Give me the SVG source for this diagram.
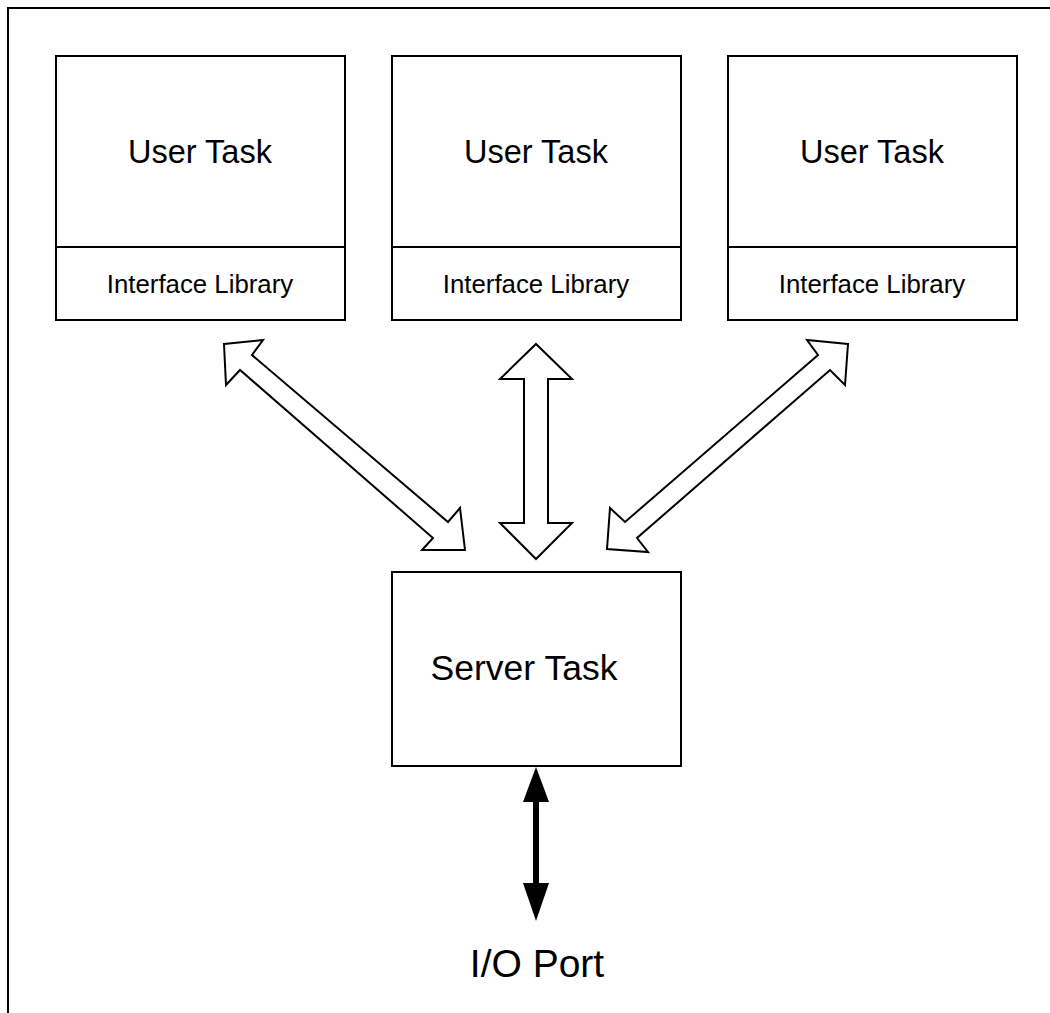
<svg xmlns="http://www.w3.org/2000/svg" width="1050" height="1013" viewBox="0 0 1050 1013">
<style>
.box{fill:#fff;stroke:#000;stroke-width:2}
.frame{fill:none;stroke:#000;stroke-width:2}
.big{font-family:"Liberation Sans",Arial,sans-serif;font-size:32.5px;fill:#000;text-anchor:middle}
.small{font-family:"Liberation Sans",Arial,sans-serif;font-size:25.8px;fill:#000;text-anchor:middle}
.srv{font-family:"Liberation Sans",Arial,sans-serif;font-size:35.5px;fill:#000;text-anchor:middle}
.io{font-family:"Liberation Sans",Arial,sans-serif;font-size:39px;fill:#000;text-anchor:middle}
.hollow{fill:#fff;stroke:#000;stroke-width:2;stroke-linejoin:miter}
</style>
<rect width="1050" height="1013" fill="#fff"/>
<rect class="frame" x="8" y="8" width="1060" height="1030"/>
<g id="user1">
<rect class="box" x="56" y="56" width="289" height="264"/>
<line x1="56" y1="247" x2="345" y2="247" stroke="#000" stroke-width="2"/>
<text class="big" x="200" y="163">User Task</text>
<text class="small" x="200" y="293">Interface Library</text>
</g>
<g id="user2">
<rect class="box" x="392" y="56" width="289" height="264"/>
<line x1="392" y1="247" x2="681" y2="247" stroke="#000" stroke-width="2"/>
<text class="big" x="536" y="163">User Task</text>
<text class="small" x="536" y="293">Interface Library</text>
</g>
<g id="user3">
<rect class="box" x="728" y="56" width="289" height="264"/>
<line x1="728" y1="247" x2="1017" y2="247" stroke="#000" stroke-width="2"/>
<text class="big" x="872" y="163">User Task</text>
<text class="small" x="872" y="293">Interface Library</text>
</g>
<g id="server">
<rect class="box" x="392" y="572" width="289" height="194"/>
<text class="srv" x="524" y="680">Server Task</text>
</g>
<g id="io">
<text class="io" x="537" y="977">I/O Port</text>
</g>
<g id="connectors">
<polygon class="hollow" points="224,344 263,340 252,355 448,522 460,508 465,550 422,550 433,538 240,370 226,385"/>
<polygon class="hollow" points="536,344 572,379 548,379 548,523 572,523 536,559 500,523 524,523 524,379 500,379"/>
<polygon class="hollow" points="848,344 807,340 818,355 625,522 610,508 607,549 648,552 637,538 830,370 845,385"/>
<line x1="536" y1="800" x2="536" y2="885" stroke="#000" stroke-width="6"/>
<polygon points="536,767 549,802 523,802" fill="#000"/>
<polygon points="536,921 549,883 523,883" fill="#000"/>
</g>
</svg>
